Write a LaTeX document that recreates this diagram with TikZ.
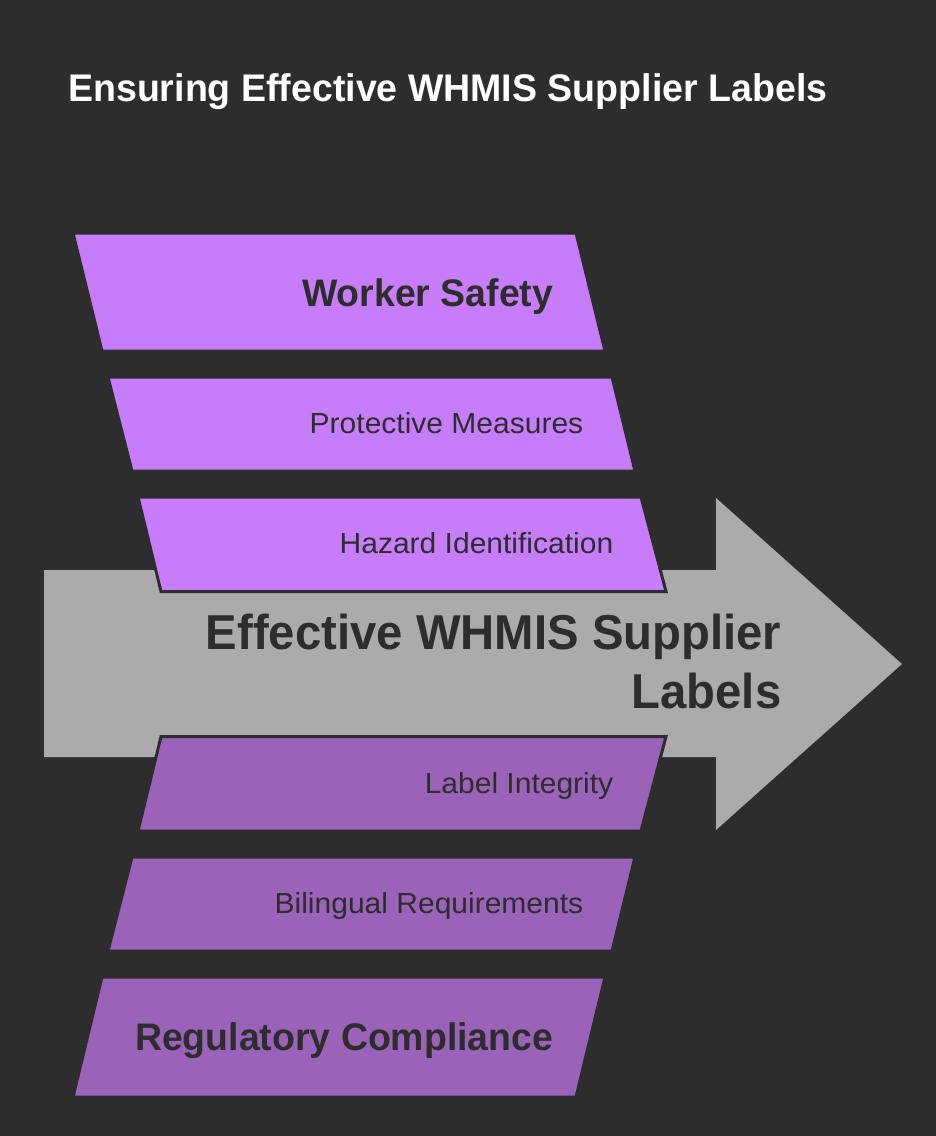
\documentclass[tikz,border=0pt]{standalone}
\usepackage{fontspec}
\setmainfont{Liberation Sans}
\newfontfamily\boldfam[FakeStretch=0.975]{Liberation Sans}
\newfontfamily\hugefam[FakeStretch=0.965]{Liberation Sans}
\newfontfamily\smallfam[FakeStretch=1.035]{Liberation Sans}
\definecolor{bgdark}{HTML}{2D2D2D}
\definecolor{arrowgrey}{HTML}{ABABAB}
\definecolor{lightpurple}{HTML}{C77DFA}
\definecolor{darkpurple}{HTML}{9A62B8}
\tikzset{
  slab/.style={draw=bgdark,line width=3pt,line join=miter},
  upper/.style={slab,fill=lightpurple},
  lower/.style={slab,fill=darkpurple},
  big/.style={anchor=base east,text=bgdark,inner sep=0pt,font=\boldfam\fontsize{38.4}{38.4}\selectfont\bfseries},
  small/.style={anchor=base east,text=bgdark,inner sep=0pt,font=\smallfam\fontsize{29}{29}\selectfont},
  huge/.style={anchor=base east,text=bgdark,inner sep=0pt,font=\hugefam\fontsize{49}{49}\selectfont\bfseries},
}
\begin{document}
\begin{tikzpicture}[x=1pt,y=-1pt]
\useasboundingbox (0,0) rectangle (936,1136);
\fill[bgdark] (0,0) rectangle (936,1136);
\node[anchor=base west,text=white,inner sep=0pt,font=\boldfam\fontsize{38.5}{38.5}\selectfont\bfseries] (title) at (68,101) {Ensuring Effective WHMIS Supplier Labels};
\fill[arrowgrey] (44,570) -- (716,570) -- (716,498) -- (902,664) -- (716,830) -- (716,757) -- (44,757) -- cycle;
\draw[upper] (73,233) -- (576,233) -- (605,351) -- (102,351) -- cycle;
\draw[upper] (108,377) -- (612,377) -- (635,471) -- (132,471) -- cycle;
\draw[upper] (138,497) -- (641,497) -- (666,591.5) -- (161,591.5) -- cycle;
\draw[lower] (161,736.5) -- (666,736.5) -- (641,831) -- (138,831) -- cycle;
\draw[lower] (132,857) -- (635,857) -- (612,951) -- (108,951) -- cycle;
\draw[lower] (102,977) -- (605,977) -- (576,1097) -- (73,1097) -- cycle;
\node[big] (safety) at (553.5,306) {Worker Safety};
\node[small] (protect) at (583.5,433) {Protective Measures};
\node[small] (hazard) at (613.5,553) {Hazard Identification};
\node[huge] (effect) at (781.5,649) {Effective WHMIS Supplier};
\node[huge] (labels) at (781.5,708) {Labels};
\node[small] (integrity) at (613.5,793) {Label Integrity};
\node[small] (bilingual) at (583.5,913) {Bilingual Requirements};
\node[big] (regulatory) at (553.5,1050) {Regulatory Compliance};
\end{tikzpicture}
\end{document}
